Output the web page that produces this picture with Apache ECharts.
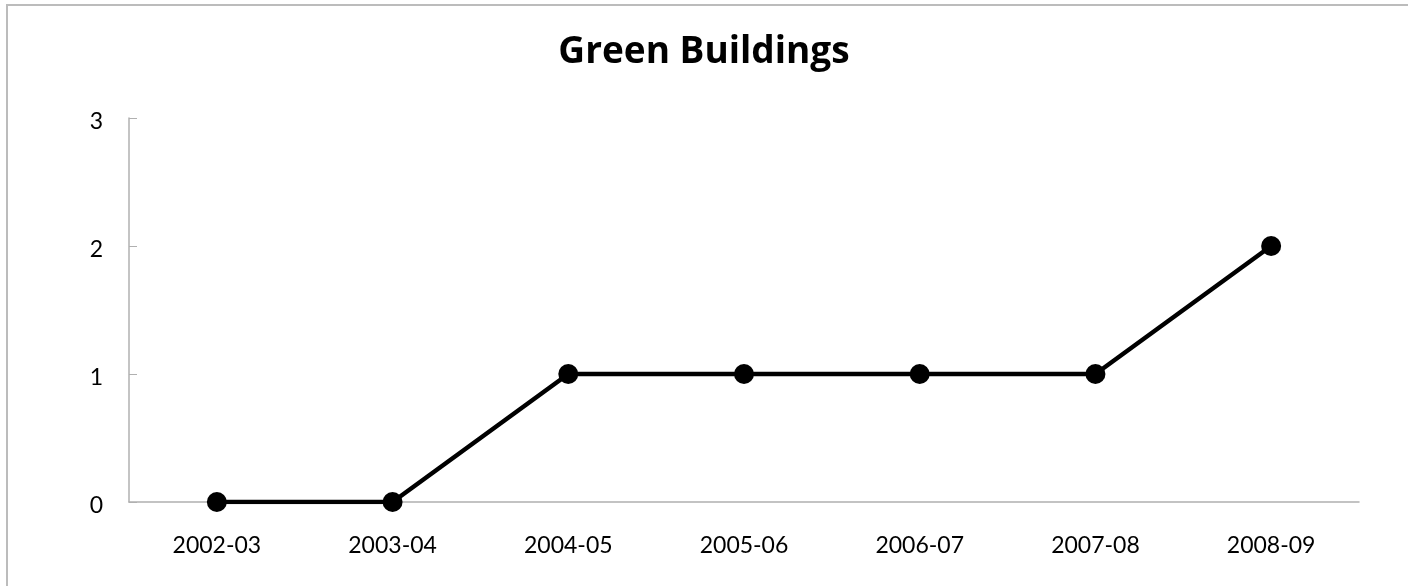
<!DOCTYPE html>
<html>
<head>
<meta charset="utf-8">
<script src="https://cdn.jsdelivr.net/npm/echarts@6/dist/echarts.min.js"></script>
<style>
  html, body { margin: 0; padding: 0; background: #fff; }
  #chart { width: 1408px; height: 586px; }
</style>
</head>
<body>
<div id="chart"></div>
<script>
// data
var categories = ['2002-03', '2003-04', '2004-05', '2005-06', '2006-07', '2007-08', '2008-09'];
var buildings = [0, 0, 1, 1, 1, 1, 2];
var yTicks = [0, 1, 2, 3];

var myChart = echarts.init(document.getElementById('chart'));
myChart.setOption({
    animation: false,
    title: {
        text: 'Green Buildings',
        left: 'center',
        top: 25,
        textStyle: { fontFamily: 'Open Sans', fontWeight: 'bold', fontSize: 37, lineHeight: 44, color: '#000' }
    },
    graphic: [{
        type: 'rect',
        z: -1,
        shape: { x: 7, y: 5, width: 1440, height: 620 },
        style: { fill: 'none', stroke: '#bcbcbc', lineWidth: 2 }
    }],
    grid: { left: 129, right: 49, top: 118, bottom: 84 },
    xAxis: {
        type: 'category',
        data: categories,
        boundaryGap: true,
        axisLine: { lineStyle: { color: '#b0b0b0', width: 1.5 } },
        axisTick: { show: false },
        axisLabel: { color: '#000', fontFamily: 'Lato', fontSize: 23, lineHeight: 23, margin: 32 }
    },
    yAxis: {
        type: 'value',
        min: yTicks[0],
        max: yTicks[yTicks.length - 1],
        interval: 1,
        splitLine: { show: false },
        axisLine: { show: true, lineStyle: { color: '#b0b0b0', width: 1.5 } },
        axisTick: { show: true, inside: true, length: 8, lineStyle: { color: '#b0b0b0' } },
        axisLabel: { color: '#000', fontFamily: 'Lato', fontSize: 23, lineHeight: 30, margin: 26, verticalAlign: 'top', padding: [-11, 0, 0, 0] }
    },
    series: [{
        name: 'Green Buildings',
        type: 'line',
        data: buildings,
        symbol: 'circle',
        symbolSize: 20,
        lineStyle: { color: '#000', width: 4.5 },
        itemStyle: { color: '#000' }
    }]
});
</script>
</body>
</html>
